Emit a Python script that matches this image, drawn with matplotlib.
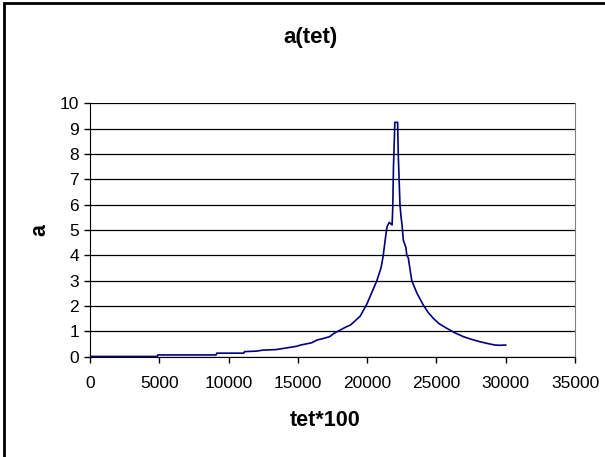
import matplotlib
matplotlib.use("Agg")
import matplotlib.pyplot as plt
from matplotlib.patches import Rectangle

tet = [0, 4850, 4900, 9100, 9150, 11100, 11150, 12000, 12500, 13400, 14000, 14900,
       15200, 16000, 16400, 16700, 17300, 17600, 18500, 18800, 19500, 20000, 20700,
       21000, 21150, 21300, 21400, 21450, 21600, 21800, 21850, 21900, 22000, 22200,
       22250, 22370, 22450, 22520, 22610, 22800, 22860, 22970, 23220, 23600, 24050,
       24400, 24780, 25200, 25750, 26300, 26950, 27500, 28150, 28700, 29230, 29600, 30000]
a_vals = [0.01, 0.01, 0.07, 0.07, 0.14, 0.14, 0.2, 0.22, 0.26, 0.28, 0.33, 0.41,
          0.46, 0.55, 0.66, 0.7, 0.79, 0.92, 1.18, 1.25, 1.6, 2.1, 3.0,
          3.5, 3.95, 4.6, 5.0, 5.15, 5.3, 5.2, 5.9, 7.5, 9.25, 9.25,
          7.9, 6.0, 5.5, 5.2, 4.6, 4.3, 4.0, 3.9, 3.0, 2.5, 2.04,
          1.75, 1.51, 1.3, 1.12, 0.95, 0.79, 0.69, 0.59, 0.52, 0.46, 0.45, 0.46]

x_ticks = [0, 5000, 10000, 15000, 20000, 25000, 30000, 35000]
y_ticks = [0, 1, 2, 3, 4, 5, 6, 7, 8, 9, 10]

plt.rcParams['font.family'] = ['Liberation Sans', 'DejaVu Sans']

W, H = 605, 457
fig = plt.figure(figsize=(W / 100, H / 100), dpi=100)
fig.patch.set_facecolor('white')

# outer chart frame (only left and top edges visible)
fig.patches.append(Rectangle((4 / W, -0.1), 1.2, 1.1 - 3 / H,
                             transform=fig.transFigure, fill=False,
                             edgecolor='black', linewidth=2))

ax = fig.add_axes([90 / W, (H - 356.7) / H, 485 / W, (356.7 - 103.3) / H])
ax.plot(tet, a_vals, color='#000080', linewidth=1.2)

ax.set_xlim(0, 35000)
ax.set_ylim(0, 10)
ax.set_xticks(x_ticks)
ax.set_xticklabels([str(v) for v in x_ticks])
ax.set_yticks(y_ticks)
ax.set_yticklabels([str(v) for v in y_ticks])
ax.yaxis.grid(True, color='black', linewidth=0.9)
ax.set_axisbelow(True)
ax.tick_params(axis='both', direction='out', length=4, width=1, labelsize=12.5,
               color='black', pad=4)
ax.tick_params(axis='x', pad=10)
ax.spines['top'].set_visible(False)
ax.spines['right'].set_color('#808080')
ax.spines['left'].set_color('black')
ax.spines['bottom'].set_color('black')

ax.set_xlabel('tet*100', fontsize=15.5, fontweight='bold')
ax.set_ylabel('a', fontsize=15.5, fontweight='bold')
ax.xaxis.set_label_coords((325 - 90) / 485, (356.7 - 421) / 253.4)
ax.yaxis.set_label_coords((40 - 90) / 485, (356.7 - 230) / 253.4)
ax.xaxis.label.set_va('center')
ax.yaxis.label.set_va('center')
fig.text(310 / W, 1 - 38 / H, 'a(tet)', fontsize=16, fontweight='bold',
         ha='center', va='center')

fig.savefig('out.png', dpi=100)
